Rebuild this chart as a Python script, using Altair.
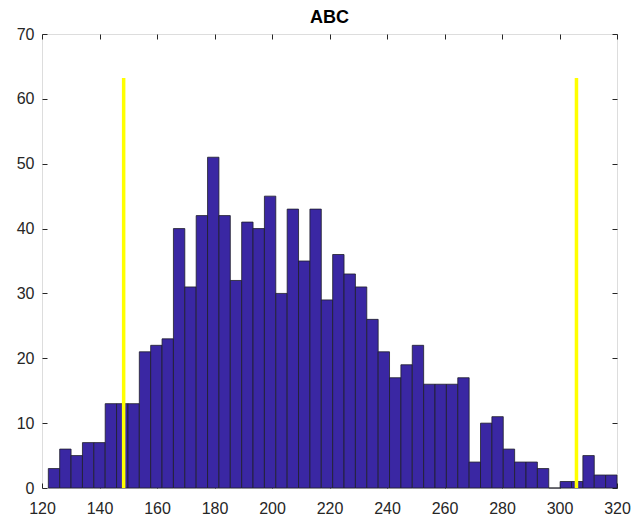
import altair as alt
import pandas as pd

# Histogram counts (50 equal bins)
counts = [3, 6, 5, 7, 7, 13, 13, 13, 21, 22,
          23, 40, 31, 42, 51, 42, 32, 41, 40, 45,
          30, 43, 35, 43, 29, 36, 33, 31, 26, 21,
          17, 19, 22, 16, 16, 16, 17, 4, 10, 11,
          6, 4, 4, 3, 0, 1, 1, 5, 2, 2]
x_min, x_max = 122.2, 320.0
lines_x = [148.4, 305.9]
line_top = 63.2
x_ticks = [120, 140, 160, 180, 200, 220, 240, 260, 280, 300, 320]
y_ticks = [0, 10, 20, 30, 40, 50, 60, 70]
title_text = "ABC"

n = len(counts)
w = (x_max - x_min) / n
bars = pd.DataFrame({
    "start": [x_min + i * w for i in range(n)],
    "end": [x_min + (i + 1) * w for i in range(n)],
    "count": counts,
    "zero": [0] * n,
})
lines = pd.DataFrame({"x": lines_x, "top": [line_top] * len(lines_x), "zero": [0] * len(lines_x)})

W, H = 575, 454
xs = alt.Scale(domain=[120, 320], nice=False, zero=False)
ys = alt.Scale(domain=[0, 70], nice=False)
TC = "#262626"
FONT = "Liberation Sans"

main_x = alt.Axis(orient="bottom", values=x_ticks, tickSize=0, labelPadding=12, domain=False,
                  grid=False, title=None, labelFontSize=16, labelColor=TC, labelFont=FONT,
                  labelFlush=False, labelOverlap=False)
main_y = alt.Axis(orient="left", values=y_ticks, tickSize=0, labelPadding=8, domain=False,
                  grid=False, title=None, labelFontSize=16, labelColor=TC, labelFont=FONT,
                  labelFlush=False, labelOverlap=False)

def tick_axis(orient, vals, off):
    return alt.Axis(orient=orient, values=vals, tickSize=5, tickColor=TC, tickWidth=1,
                    labels=False, domain=False, grid=False, title=None, offset=off)

bar = alt.Chart(bars).mark_rect(color="#3a27a3", stroke="#1e1e2a", strokeWidth=0.8).encode(
    x=alt.X("start:Q", scale=xs, axis=main_x),
    x2="end:Q",
    y=alt.Y("count:Q", scale=ys, axis=main_y),
    y2="zero:Q",
)

rules = alt.Chart(lines).mark_rule(color="#ffff00", strokeWidth=3.5).encode(
    x=alt.X("x:Q", scale=xs, axis=tick_axis("top", x_ticks, -H)),
    y=alt.Y("top:Q", scale=ys, axis=tick_axis("right", y_ticks, -W)),
    y2="zero:Q",
)

ghost = alt.Chart(lines).mark_rule(opacity=0).encode(
    x=alt.X("x:Q", scale=xs, axis=tick_axis("bottom", x_ticks, -H)),
    y=alt.Y("top:Q", scale=ys, axis=tick_axis("left", y_ticks, -W)),
    y2="zero:Q",
)

chart = alt.layer(bar, rules, ghost).resolve_axis(x="independent", y="independent").properties(
    width=W, height=H,
    autosize="none",
    padding={"left": 42, "top": 34, "right": 17, "bottom": 33},
    title=alt.TitleParams(title_text, fontSize=18, fontWeight="bold", font=FONT,
                          color="black", anchor="middle", offset=2, dy=3, frame="group"),
).configure_view(stroke=TC, strokeWidth=1).configure(background="white")

chart.save("out.html", embed_options={"renderer": "svg", "actions": False})
